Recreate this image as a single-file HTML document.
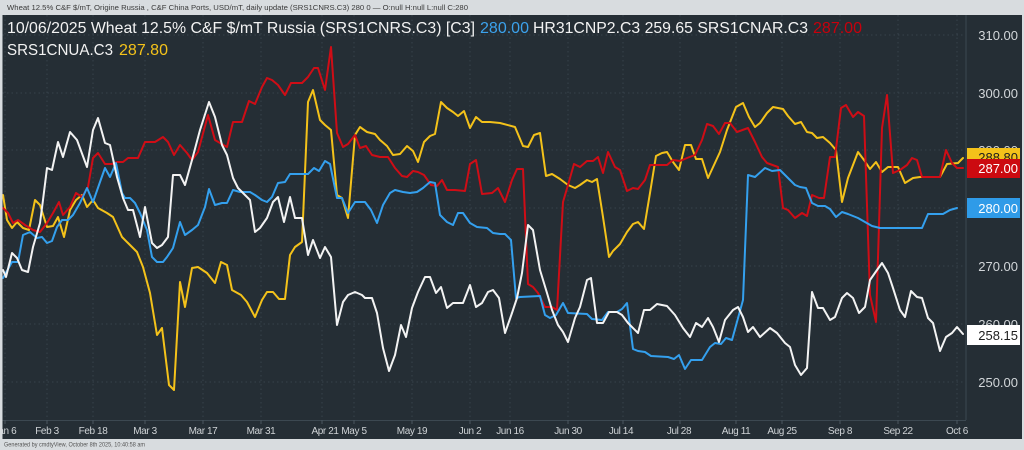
<!DOCTYPE html>
<html><head><meta charset="utf-8"><style>
html,body{margin:0;padding:0;background:#d8dcdf;}
svg{display:block;font-family:"Liberation Sans",sans-serif;}
</style></head><body>
<svg width="1024" height="450" viewBox="0 0 1024 450" xmlns="http://www.w3.org/2000/svg">
<defs>
<clipPath id="plot"><rect x="2.5" y="15" width="963.5" height="405"/></clipPath>
<clipPath id="panel"><rect x="2.5" y="15" width="1019.5" height="424"/></clipPath>
</defs>
<rect x="0" y="0" width="1024" height="450" fill="#d8dcdf"/>
<text x="7" y="10" font-size="7.5" fill="#3a3a3a" textLength="461" lengthAdjust="spacingAndGlyphs">Wheat 12.5%  C&amp;F $/mT, Origine Russia , C&amp;F China Ports, USD/mT, daily update (SRS1CNRS.C3) 280 0 — O:null H:null L:null C:280</text>
<rect x="2.5" y="15" width="1019.5" height="424" fill="#252e35"/>
<g stroke="#36424b" stroke-width="1" stroke-dasharray="1.5,3">
<line x1="2.5" x2="966" y1="35" y2="35"/><line x1="2.5" x2="966" y1="93" y2="93"/><line x1="2.5" x2="966" y1="150" y2="150"/><line x1="2.5" x2="966" y1="208" y2="208"/><line x1="2.5" x2="966" y1="266" y2="266"/><line x1="2.5" x2="966" y1="324" y2="324"/><line x1="2.5" x2="966" y1="382" y2="382"/>
<line x1="5" x2="5" y1="15" y2="420"/><line x1="47" x2="47" y1="15" y2="420"/><line x1="93" x2="93" y1="15" y2="420"/><line x1="145" x2="145" y1="15" y2="420"/><line x1="203" x2="203" y1="15" y2="420"/><line x1="261" x2="261" y1="15" y2="420"/><line x1="322" x2="322" y1="15" y2="420"/><line x1="354" x2="354" y1="15" y2="420"/><line x1="412" x2="412" y1="15" y2="420"/><line x1="470" x2="470" y1="15" y2="420"/><line x1="510" x2="510" y1="15" y2="420"/><line x1="568" x2="568" y1="15" y2="420"/><line x1="623" x2="623" y1="15" y2="420"/><line x1="680" x2="680" y1="15" y2="420"/><line x1="736" x2="736" y1="15" y2="420"/><line x1="782" x2="782" y1="15" y2="420"/><line x1="840" x2="840" y1="15" y2="420"/><line x1="898" x2="898" y1="15" y2="420"/><line x1="957" x2="957" y1="15" y2="420"/>
</g>
<line x1="966" x2="966" y1="15" y2="420" stroke="#3c4851" stroke-width="1"/>
<line x1="2.5" x2="966" y1="420.5" y2="420.5" stroke="#3c4851" stroke-width="1"/>
<g stroke="#4a5660" stroke-width="1">
<line x1="5" x2="5" y1="420" y2="424"/><line x1="47" x2="47" y1="420" y2="424"/><line x1="93" x2="93" y1="420" y2="424"/><line x1="145" x2="145" y1="420" y2="424"/><line x1="203" x2="203" y1="420" y2="424"/><line x1="261" x2="261" y1="420" y2="424"/><line x1="322" x2="322" y1="420" y2="424"/><line x1="354" x2="354" y1="420" y2="424"/><line x1="412" x2="412" y1="420" y2="424"/><line x1="470" x2="470" y1="420" y2="424"/><line x1="510" x2="510" y1="420" y2="424"/><line x1="568" x2="568" y1="420" y2="424"/><line x1="623" x2="623" y1="420" y2="424"/><line x1="680" x2="680" y1="420" y2="424"/><line x1="736" x2="736" y1="420" y2="424"/><line x1="782" x2="782" y1="420" y2="424"/><line x1="840" x2="840" y1="420" y2="424"/><line x1="898" x2="898" y1="420" y2="424"/><line x1="957" x2="957" y1="420" y2="424"/>
</g>
<g clip-path="url(#panel)" font-size="10" fill="#cfd3d6" text-anchor="middle" letter-spacing="-0.4">
<text x="5" y="434">Jan 6</text><text x="47" y="434">Feb 3</text><text x="93" y="434">Feb 18</text><text x="145" y="434">Mar 3</text><text x="203" y="434">Mar 17</text><text x="261" y="434">Mar 31</text><text x="325" y="434">Apr 21</text><text x="354" y="434">May 5</text><text x="412" y="434">May 19</text><text x="470" y="434">Jun 2</text><text x="510" y="434">Jun 16</text><text x="568" y="434">Jun 30</text><text x="621" y="434">Jul 14</text><text x="679" y="434">Jul 28</text><text x="736" y="434">Aug 11</text><text x="782" y="434">Aug 25</text><text x="840" y="434">Sep 8</text><text x="898" y="434">Sep 22</text><text x="957" y="434">Oct 6</text>
</g>
<g font-size="13" fill="#d2d6d9" text-anchor="end">
<text x="1018" y="40">310.00</text><text x="1018" y="98">300.00</text><text x="1018" y="155">290.00</text><text x="1018" y="213">280.00</text><text x="1018" y="271">270.00</text><text x="1018" y="329">260.00</text><text x="1018" y="387">250.00</text>
</g>
<g clip-path="url(#plot)" fill="none" stroke-width="2" stroke-linejoin="round" stroke-linecap="round">
<polyline stroke="#f4c21a" points="3,195 7,220 12,228 17,222 23,228 29,230 35,200 40,205 47,227 53,226 58,217 64,237 70,210 76,200 82,195 87,207 93,200 98,208 107,213 113,217 122,237 128,243 137,252 143,267 150,293 157,335 162,328 169,385 174,390 180,282 185,307 192,268 198,267 207,273 215,283 221,262 227,265 232,290 241,295 247,302 255,317 262,300 267,292 273,292 279,299 285,299 290,255 295,247 302,242 308,102 313,90 320,120 325,125 331,130 337,195 342,198 348,218 355,135 360,127 367,132 375,134 380,140 387,146 393,155 400,154 407,146 413,151 418,162 424,142 430,136 435,134 441,102 447,108 453,112 458,116 464,111 470,128 476,117 482,122 490,122 500,123 515,127 523,146 528,147 534,135 540,133 546,176 552,174 560,179 568,185 575,188 580,185 587,180 592,182 597,179 603,217 609,257 613,251 620,244 627,232 633,224 638,222 644,229 650,193 656,156 662,153 667,152 673,162 679,170 685,145 691,145 696,159 702,159 708,178 720,152 727,130 736,107 743,103 749,117 755,127 760,123 767,113 773,107 783,109 788,116 795,124 801,122 807,132 812,133 817,138 823,137 830,143 836,150 842,202 848,178 858,152 864,160 870,169 876,162 882,172 888,167 898,167 905,183 913,178 920,177 940,177 947,164 958,163 963,158"/>
<polyline stroke="#cf0d16" points="3,208 8,213 13,223 18,220 25,225 33,230 40,232 47,223 53,213 59,202 63,215 70,207 76,193 82,197 88,187 93,158 98,153 105,164 112,164 117,162 123,162 128,158 138,158 145,142 155,142 163,137 168,142 174,155 180,145 187,153 192,160 198,152 208,115 215,140 220,143 227,147 233,122 242,122 249,101 255,104 262,87 267,78 272,80 278,85 285,95 291,83 297,83 302,83 308,77 314,68 318,68 325,90 331,47 337,133 343,147 348,144 355,135 360,148 366,146 372,155 380,157 388,157 395,168 402,176 407,177 413,171 418,172 424,175 431,185 437,186 442,180 447,190 455,190 465,191 470,164 476,160 482,194 492,193 498,188 505,202 512,180 517,169 523,169 528,284 533,287 538,293 545,307 552,307 557,310 563,202 568,185 574,164 580,167 587,161 593,161 598,157 603,173 608,152 615,167 620,170 627,191 633,188 638,189 645,180 650,165 667,165 673,160 680,161 687,158 695,155 702,140 707,124 713,126 719,134 725,123 730,123 737,132 748,128 755,142 762,157 767,163 778,167 783,208 788,210 795,218 802,213 807,216 812,195 819,198 824,198 830,157 835,157 841,108 846,105 853,117 858,112 864,116 870,295 876,322 882,128 887,95 893,173 900,170 907,165 912,158 917,160 922,177 940,177 946,150 952,163 957,168 963,168"/>
<polyline stroke="#34a0ee" points="3,278 12,262 18,262 23,235 30,232 37,238 42,237 47,243 52,241 57,227 62,220 68,220 73,215 80,203 87,188 93,202 100,182 105,168 110,177 116,163 122,193 125,198 130,198 135,203 140,213 147,230 152,257 157,262 163,262 167,257 173,248 180,222 185,235 192,230 198,225 205,207 209,189 215,205 222,203 227,203 233,190 240,192 250,192 255,195 262,200 267,202 272,197 278,183 285,182 290,174 308,174 314,168 319,171 325,161 330,164 337,198 342,198 348,213 355,202 365,202 371,210 377,223 383,205 390,193 395,190 403,192 410,193 417,192 423,188 430,182 435,183 440,215 447,222 453,225 458,213 463,213 470,223 477,227 487,228 493,233 500,234 505,234 511,240 516,298 520,297 540,296 545,315 550,318 556,315 563,303 568,313 587,314 592,319 602,320 608,312 617,312 622,309 627,303 633,349 638,351 645,352 651,356 668,357 674,359 679,355 685,369 691,360 702,360 710,347 715,343 721,344 726,338 732,340 743,300 748,175 755,177 765,168 772,171 780,170 785,175 795,185 800,187 806,188 812,203 818,206 825,206 830,209 836,217 842,212 848,214 858,218 865,222 872,226 880,228 922,228 928,214 943,214 950,210 957,208"/>
<polyline stroke="#f3f3f3" points="3,270 6,277 12,253 17,258 22,270 28,272 33,247 40,223 43,200 47,168 52,170 58,142 63,157 70,132 77,140 87,167 93,130 98,118 105,143 110,145 117,177 123,198 128,210 133,210 140,237 145,207 152,243 157,248 162,245 168,237 173,175 180,175 185,185 192,160 200,130 209,102 215,117 222,145 227,155 233,178 238,188 247,197 250,200 255,232 260,228 267,218 273,202 278,197 284,222 290,197 295,218 302,218 308,255 313,240 320,258 325,247 331,257 337,325 343,302 348,295 355,292 362,295 365,298 372,298 377,313 383,348 389,371 395,355 401,325 406,337 412,308 418,292 425,277 430,277 436,293 441,287 447,308 453,303 463,303 470,285 476,307 482,303 488,292 493,290 499,298 505,333 512,313 517,298 522,273 528,225 533,230 540,270 547,293 552,310 558,325 563,332 568,342 575,318 580,307 587,280 591,278 597,323 603,323 609,312 617,312 622,315 628,323 638,333 644,310 650,310 657,304 667,306 675,315 683,328 690,337 696,323 702,327 708,318 713,327 719,342 725,320 733,310 738,307 743,317 748,332 753,327 760,337 770,328 777,333 785,343 790,347 795,365 801,375 807,368 812,292 818,308 823,308 830,320 835,317 842,298 847,293 853,298 859,313 865,307 870,280 877,270 882,263 888,273 893,288 900,310 905,317 911,291 917,297 922,298 928,318 933,323 940,351 946,337 952,333 957,327 963,334"/>
</g>
<rect x="967" y="148" width="53" height="20" fill="#f4c21a"/>
<text x="1018" y="162" font-size="13" fill="#1e1e1e" text-anchor="end">288.80</text>
<rect x="967" y="159" width="53" height="19" fill="#cc0a10"/>
<text x="1018" y="173" font-size="13" fill="#ffffff" text-anchor="end">287.00</text>
<rect x="967" y="198" width="53" height="20" fill="#2f9be8"/>
<text x="1018" y="213" font-size="13" fill="#ffffff" text-anchor="end">280.00</text>
<rect x="967" y="325" width="53" height="20" fill="#ffffff"/>
<text x="1018" y="340" font-size="13" fill="#1e1e1e" text-anchor="end">258.15</text>
<text y="33" font-size="16" fill="#f2f2f2">
<tspan x="7" textLength="468" lengthAdjust="spacingAndGlyphs">10/06/2025 Wheat 12.5% C&amp;F $/mT Russia (SRS1CNRS.C3) [C3]</tspan>
</text>
<text x="480" y="33" font-size="16" fill="#3ca2ec" textLength="49" lengthAdjust="spacingAndGlyphs">280.00</text>
<text x="533" y="33" font-size="16" fill="#f2f2f2" textLength="275" lengthAdjust="spacingAndGlyphs">HR31CNP2.C3 259.65 SRS1CNAR.C3</text>
<text x="813" y="33" font-size="16" fill="#c8000c" textLength="49" lengthAdjust="spacingAndGlyphs">287.00</text>
<text x="7" y="55" font-size="16" fill="#f2f2f2" textLength="106" lengthAdjust="spacingAndGlyphs">SRS1CNUA.C3</text>
<text x="119" y="55" font-size="16" fill="#f4c21a" textLength="49" lengthAdjust="spacingAndGlyphs">287.80</text>
<text x="4" y="446.5" font-size="6" fill="#555" textLength="141" lengthAdjust="spacingAndGlyphs">Generated by cmdtyView, October 8th 2025, 10:40:58 am</text>
</svg>
</body></html>
